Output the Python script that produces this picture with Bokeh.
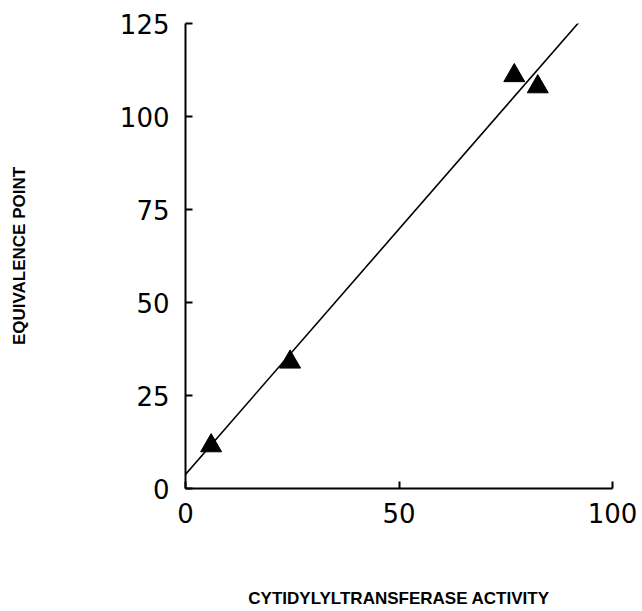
from bokeh.plotting import figure
from bokeh.models import Range1d, FixedTicker
from bokeh.embed import file_html
from bokeh.resources import INLINE

# data
activity = [6.0, 24.5, 77.0, 82.5]
equivalence = [11.5, 34.0, 111.0, 108.0]
fit_x = [0.0, 92.5]
fit_y = [3.8, 125.8]
x_ticks = [0, 50, 100]
y_ticks = [0, 25, 50, 75, 100, 125]

p = figure(width=640, height=610, output_backend="svg", toolbar_location=None,
           x_range=Range1d(0, 100), y_range=Range1d(0, 125),
           min_border_left=185, min_border_right=28, min_border_top=23,
           min_border_bottom=122)
p.outline_line_color = None
p.xgrid.visible = False
p.ygrid.visible = False
p.background_fill_color = "white"
p.border_fill_color = "white"

p.line(fit_x, fit_y, line_color="black", line_width=1.6)
p.scatter(activity, equivalence, marker="triangle", size=21,
          fill_color="black", line_color="black")

tick_font = "DejaVu Sans"
for ax in (p.xaxis[0], p.yaxis[0]):
    ax.axis_line_color = "black"
    ax.axis_line_width = 2
    ax.major_tick_line_color = "black"
    ax.major_tick_line_width = 2
    ax.major_tick_in = 7
    ax.major_tick_out = 0
    ax.minor_tick_line_color = None
    ax.major_label_text_font = tick_font
    ax.major_label_text_font_size = "26px"
    ax.major_label_text_color = "black"
    ax.axis_label_text_font = "Liberation Sans"
    ax.axis_label_text_font_style = "bold"
    ax.axis_label_text_font_size = "17px"
    ax.axis_label_text_color = "black"

p.xaxis.ticker = FixedTicker(ticks=x_ticks)
p.yaxis.ticker = FixedTicker(ticks=y_ticks)
p.xaxis.axis_label = "CYTIDYLYLTRANSFERASE ACTIVITY"
p.yaxis.axis_label = "EQUIVALENCE POINT"
p.xaxis.major_label_standoff = 14
p.yaxis.major_label_standoff = 16
p.xaxis.axis_label_standoff = 63
p.yaxis.axis_label_standoff = 88

open("out.html", "w").write(file_html(p, INLINE))
